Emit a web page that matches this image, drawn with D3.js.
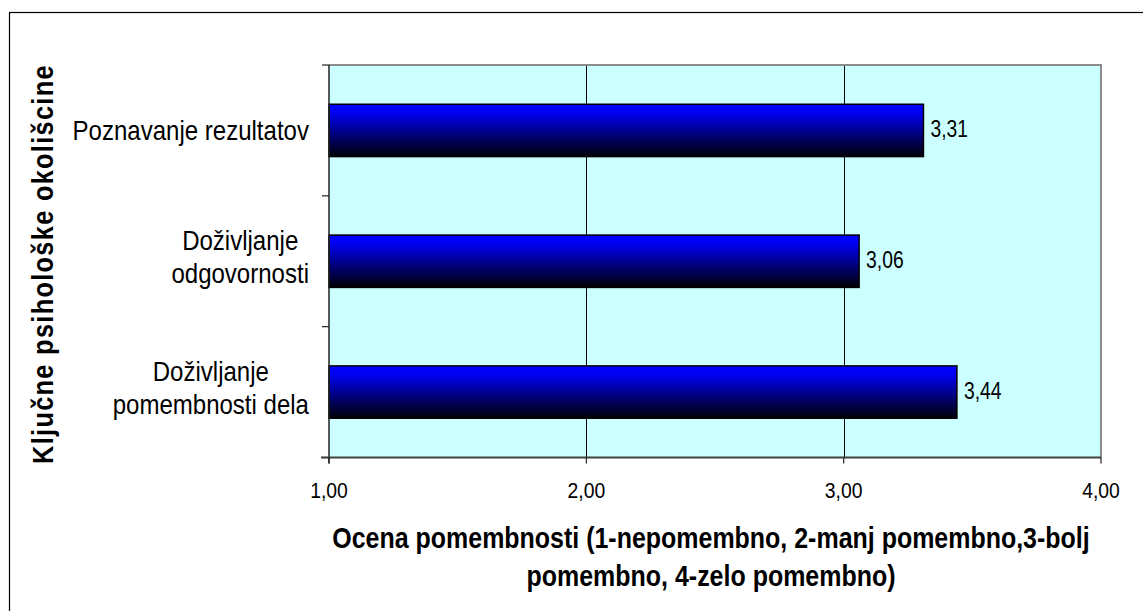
<!DOCTYPE html>
<html><head><meta charset="utf-8">
<script src="https://cdn.jsdelivr.net/npm/d3@7"></script>
<style>html,body{margin:0;padding:0;background:#fff;}svg{display:block;}</style>
</head><body>
<script>
const categories = [["Poznavanje rezultatov"], ["Doživljanje ", "odgovornosti"], ["Doživljanje", "pomembnosti dela"]];
const categoryKeys = ["Poznavanje rezultatov", "Doživljanje odgovornosti", "Doživljanje pomembnosti dela"];
const values = [3.31, 3.06, 3.44];
const valueLabels = ["3,31", "3,06", "3,44"];
const xTicks = [1, 2, 3, 4];
const xTickLabels = ["1,00", "2,00", "3,00", "4,00"];
const xTitle = ["Ocena pomembnosti (1-nepomembno, 2-manj pomembno,3-bolj", "pomembno, 4-zelo pomembno)"];
const yTitle = "Ključne psihološke okolišcine";

const W = 1143, H = 611;
const FONT = "'Liberation Sans', Arial, sans-serif";
const svg = d3.select("body").append("svg").attr("width", W).attr("height", H);
svg.append("rect").attr("width", W).attr("height", H).attr("fill", "#fff");
svg.append("rect").attr("x", 9.5).attr("y", 12.5).attr("width", 1160).attr("height", 640)
  .attr("fill", "none").attr("stroke", "#000").attr("stroke-width", 1.2);

const L = 329, R = 1101, T = 65, B = 457.5;
const x = d3.scaleLinear().domain([1, 4]).range([L, R]);
const y = d3.scaleBand().domain(categoryKeys).range([T, B]).paddingInner(0.6).paddingOuter(0.3);

const defs = svg.append("defs");
const grad = defs.append("linearGradient").attr("id", "bg").attr("x1", 0).attr("x2", 0).attr("y1", 0).attr("y2", 1);
grad.append("stop").attr("offset", "0%").attr("stop-color", "#0000ff");
grad.append("stop").attr("offset", "15%").attr("stop-color", "#0000f5");
grad.append("stop").attr("offset", "100%").attr("stop-color", "#000005");

svg.append("rect").attr("x", L).attr("y", T).attr("width", R - L).attr("height", B - T).attr("fill", "#ccffff");
svg.append("g").selectAll("line").data(xTicks.slice(1, -1)).join("line")
  .attr("x1", d => Math.round(x(d)) + 0.5).attr("x2", d => Math.round(x(d)) + 0.5)
  .attr("y1", T).attr("y2", B).attr("stroke", "#000").attr("stroke-width", 1);
svg.append("path").attr("d", `M${L},${T}H${R}V${B}`).attr("fill", "none").attr("stroke", "#8c8c8c").attr("stroke-width", 2);

const cy = d => y(d) + y.bandwidth() / 2;
svg.append("g").selectAll("rect").data(categoryKeys).join("rect")
  .attr("x", L).attr("y", d => y(d))
  .attr("width", (d, i) => x(values[i]) - L).attr("height", y.bandwidth())
  .attr("fill", "url(#bg)").attr("stroke", "#000").attr("stroke-width", 1.5);

const yTickPos = d3.range(categoryKeys.length + 1).map(i => T + i * (B - T) / categoryKeys.length);
svg.append("line").attr("x1", L).attr("x2", L).attr("y1", T).attr("y2", B + 6).attr("stroke", "#222").attr("stroke-width", 1.5);
svg.append("g").selectAll("line").data(yTickPos).join("line")
  .attr("x1", L - 7).attr("x2", L).attr("y1", d => d).attr("y2", d => d).attr("stroke", "#222").attr("stroke-width", 1.2);
svg.append("line").attr("x1", L - 8).attr("x2", R).attr("y1", B).attr("y2", B).attr("stroke", "#404040").attr("stroke-width", 2);
svg.append("g").selectAll("line").data(xTicks).join("line")
  .attr("x1", d => x(d)).attr("x2", d => x(d)).attr("y1", B).attr("y2", B + 6).attr("stroke", "#222").attr("stroke-width", 1.2);

function txt(xp, yp, s, size, opts = {}) {
  const g = svg.append("g");
  const t = g.append("text").attr("x", 0).attr("y", 0).text(s)
    .attr("font-family", FONT).attr("font-size", size).attr("fill", "#000")
    .attr("text-anchor", opts.anchor || "start").attr("font-weight", opts.bold ? "bold" : "normal");
  if (opts.ls) t.attr("letter-spacing", opts.ls);
  let sx = opts.sx || 0.88;
  if (opts.target) sx = opts.target / t.node().getComputedTextLength();
  g.attr("transform", `translate(${xp},${yp}) ${opts.rot ? "rotate(-90)" : ""} scale(${sx},1)`);
  return t;
}
function natural(s, size, bold) {
  const t = svg.append("text").text(s).attr("font-family", FONT).attr("font-size", size).attr("font-weight", bold ? "bold" : "normal");
  const w = t.node().getComputedTextLength(); t.remove(); return w;
}

xTicks.forEach((d, i) => txt(x(d), 498, xTickLabels[i], 22, { anchor: "middle", sx: 0.88 }));
categoryKeys.forEach((d, i) => txt(x(values[i]) + 7, cy(d) + 7, valueLabels[i], 23, { sx: 0.84 }));

const CSX = 0.89, blockRight = 309;
categoryKeys.forEach((d, i) => {
  const lines = categories[i];
  const c = cy(d);
  const maxW = d3.max(lines, s => natural(s, 27) * CSX);
  const cx = blockRight - maxW / 2;
  lines.forEach((s, j) => txt(cx, c + 10 - (lines.length - 1) * 21 + j * 33, s, 27, { anchor: "middle", sx: CSX }));
});
const tsx = 758 / natural(xTitle[0], 29, true);
txt(711, 548, xTitle[0], 29, { anchor: "middle", bold: true, sx: tsx });
txt(711, 586, xTitle[1], 29, { anchor: "middle", bold: true, sx: tsx });
txt(53, 264, yTitle, 29, { anchor: "middle", bold: true, rot: true, ls: 1.5, target: 400 });
</script>
</body></html>
